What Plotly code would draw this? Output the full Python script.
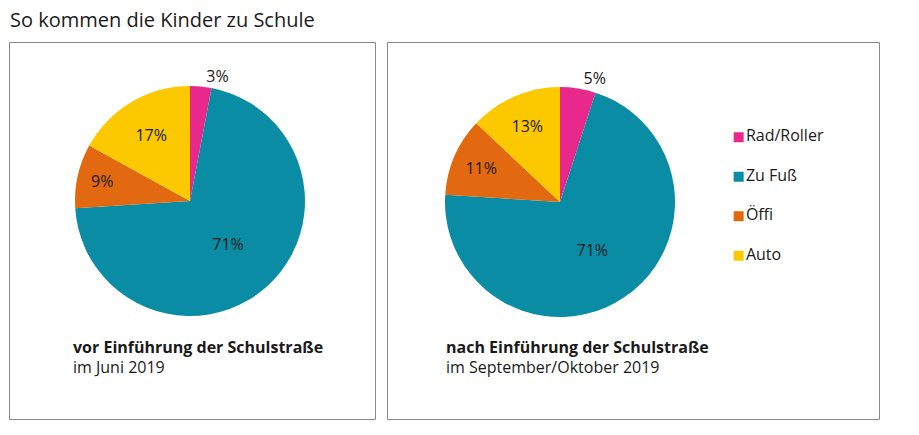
import plotly.graph_objects as go

W, H = 919, 435

categories = ["Rad/Roller", "Zu Fuß", "Öffi", "Auto"]
values_before = [3, 71, 9, 17]
values_after = [5, 71, 11, 13]
colors = ["#e8288a", "#0a8ca5", "#e2690f", "#fcc800"]

title_text = "So kommen die Kinder zu Schule"
label_before = ("vor Einführung der Schulstraße", "im Juni 2019")
label_after = ("nach Einführung der Schulstraße", "im September/Oktober 2019")

FONT = "Open Sans"
TXT = "#1a1a1a"


def px_x(x):
    return x / W


def px_y(y):
    return 1 - y / H


def pie(values, cx, cy, r, pos):
    return go.Pie(
        labels=categories,
        values=values,
        sort=False,
        direction="clockwise",
        rotation=0,
        marker=dict(colors=colors, line=dict(width=0)),
        texttemplate="%{value}%",
        textposition=pos,
        insidetextorientation="horizontal",
        textfont=dict(family=FONT, size=16, color=TXT),
        outsidetextfont=dict(family=FONT, size=16, color=TXT),
        insidetextfont=dict(family=FONT, size=16, color=TXT),
        domain=dict(x=[px_x(cx - r), px_x(cx + r)], y=[px_y(cy + r), px_y(cy - r)]),
        showlegend=False,
        hoverinfo="label+percent",
    )


fig = go.Figure()
fig.add_trace(pie(values_before, 190, 201, 115, ["outside", "inside", "inside", "inside"]))
fig.add_trace(pie(values_after, 560, 202, 115, ["outside", "inside", "inside", "inside"]))

# legend drawn as a small scatter on its own hidden axes
fig.add_trace(go.Scatter(
    x=[0] * len(categories), y=categories, mode="markers+text",
    text=categories, textposition="middle right",
    textfont=dict(family=FONT, size=16, color=TXT),
    marker=dict(symbol="square", size=10, color=colors),
    showlegend=False, hoverinfo="skip", cliponaxis=False,
))

shapes = [
    dict(type="rect", xref="paper", yref="paper", x0=px_x(9.5), x1=px_x(375.5),
         y0=px_y(419.5), y1=px_y(42.5), line=dict(color="#8a8a8a", width=1)),
    dict(type="rect", xref="paper", yref="paper", x0=px_x(387.5), x1=px_x(879.5),
         y0=px_y(419.5), y1=px_y(42.5), line=dict(color="#8a8a8a", width=1)),
]


def ann(text, x, y, size, bold=False):
    return dict(text=("<b>%s</b>" % text) if bold else text, x=px_x(x), y=px_y(y),
                xref="paper", yref="paper", xanchor="left", yanchor="middle",
                showarrow=False, font=dict(family=FONT, size=size, color=TXT))


annotations = [
    ann(title_text, 8, 20, 20),
    ann(label_before[0], 71, 347, 16, True),
    ann(label_before[1], 71, 367, 16),
    ann(label_after[0], 444, 347, 16, True),
    ann(label_after[1], 444, 367, 16),
]

fig.update_layout(
    width=W, height=H,
    margin=dict(l=0, r=0, t=0, b=0),
    paper_bgcolor="white", plot_bgcolor="rgba(0,0,0,0)",
    xaxis=dict(visible=False, domain=[px_x(733), px_x(833)], range=[-0.06, 1],
               fixedrange=True),
    yaxis=dict(visible=False, domain=[px_y(275.5), px_y(117.5)], type="category",
               categoryorder="array", categoryarray=categories,
               range=[len(categories) - 0.5, -0.5], fixedrange=True),
    shapes=shapes,
    annotations=annotations,
    showlegend=False,
    font=dict(family=FONT),
)

fig.write_html("out.html", config={"displayModeBar": False},
               post_script="document.body.style.margin='0';document.body.style.padding='0';")
